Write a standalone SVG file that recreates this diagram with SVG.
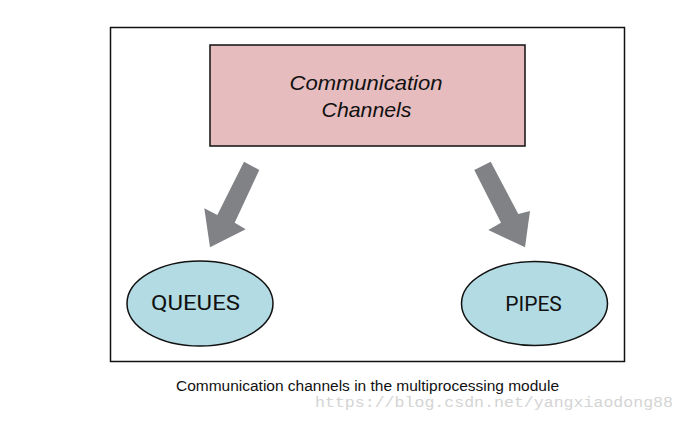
<svg xmlns="http://www.w3.org/2000/svg" width="685" height="423" viewBox="0 0 685 423">
<style>
.ell{fill:#b3dbe3;stroke:#111;stroke-width:1.5}
.lbl{font-family:Roboto,"Liberation Sans",sans-serif;font-size:21px;fill:#111;text-anchor:middle}
.it{font-family:"Liberation Sans",Arial,sans-serif;font-size:21px;font-style:italic;fill:#111;text-anchor:middle}
.arr{fill:#808285}
</style>
<rect width="685" height="423" fill="#fff"/>
<rect x="110.5" y="27.5" width="514" height="334" fill="none" stroke="#111" stroke-width="1.5"/>
<g id="channels">
<rect x="210" y="45" width="315" height="101" fill="#e6bcbe" stroke="#111" stroke-width="1.5"/>
<text class="it" x="366" y="90" textLength="153" lengthAdjust="spacingAndGlyphs">Communication</text>
<text class="it" x="366.5" y="117" textLength="90" lengthAdjust="spacingAndGlyphs">Channels</text>
</g>
<g id="connectors">
<polygon class="arr" points="244,161.7 259.3,170 234.7,222.7 245.7,229.3 210,247.3 204.3,208.3 217.3,215"/>
<polygon class="arr" points="490.7,161.7 474.3,170 501,222.7 488.3,230 525,247.3 530,211 518.3,214"/>
</g>
<g id="queues">
<ellipse class="ell" cx="200" cy="303.5" rx="73" ry="42.5"/>
<text class="lbl" x="195.5" y="309.5" textLength="89" lengthAdjust="spacingAndGlyphs">QUEUES</text>
</g>
<g id="pipes">
<ellipse class="ell" cx="534.5" cy="303.5" rx="73" ry="42"/>
<text class="lbl" x="533.5" y="311">PIPES</text>
</g>
<text x="367.5" y="391" font-family="'Liberation Sans',Arial,sans-serif" font-size="14" fill="#111" text-anchor="middle" textLength="383" lengthAdjust="spacingAndGlyphs">Communication channels in the multiprocessing module</text>
<text x="315" y="407" font-family="'Liberation Mono',monospace" font-size="15.5" fill="#d4d4d4" textLength="358" lengthAdjust="spacingAndGlyphs">https://blog.csdn.net/yangxiaodong88</text>
</svg>
